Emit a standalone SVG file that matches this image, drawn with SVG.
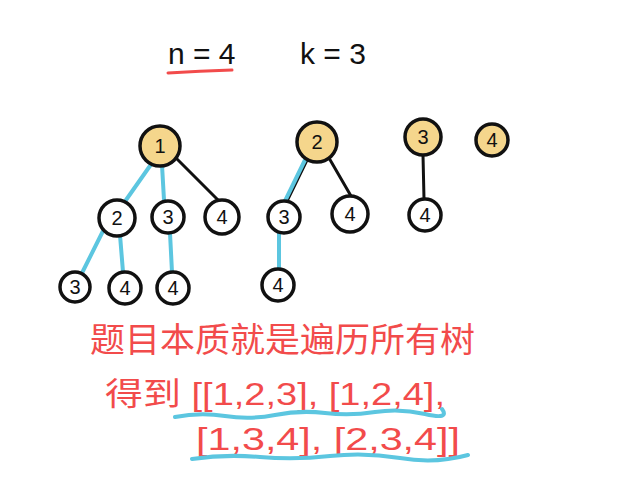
<svg xmlns="http://www.w3.org/2000/svg" width="622" height="491" viewBox="0 0 622 491">
<style>
.n circle{stroke:#111;stroke-width:3.5;fill:#fff}
.n.y circle{fill:#f5d68c}
.n text{font-family:"Liberation Sans",sans-serif;font-size:20px;fill:#111;text-anchor:middle;dominant-baseline:central}
.b{stroke:#5cc6e0;stroke-width:4;fill:none;stroke-linecap:round}
.k{stroke:#111;stroke-width:3;fill:none;stroke-linecap:round}
.t{font-family:"Liberation Sans","Noto Sans CJK SC",sans-serif;fill:#f24b4b}
.h{font-family:"Liberation Sans",sans-serif;fill:#111;font-size:30px}
</style>
<rect width="622" height="491" fill="#fff"/>
<text class="h" x="168" y="64">n = 4</text>
<text class="h" x="300" y="64">k = 3</text>
<path d="M168 73 Q200 71 232 70" stroke="#f24b4b" stroke-width="3" fill="none" stroke-linecap="round"/>
<g id="connectors">
<line class="b" x1="152" y1="163" x2="126" y2="200"/>
<line class="b" x1="162" y1="165" x2="164" y2="200"/>
<line class="k" x1="175" y1="157" x2="218" y2="200"/>
<line class="b" x1="104" y1="229" x2="82" y2="273"/>
<line class="b" x1="120" y1="235" x2="123" y2="272"/>
<line class="b" x1="170" y1="233" x2="172" y2="272"/>
<line class="k" x1="307" y1="160" x2="287" y2="201"/>
<line class="b" x1="305" y1="160" x2="285" y2="201"/>
<line class="k" x1="329" y1="158" x2="351" y2="196"/>
<line class="b" x1="279" y1="233" x2="279" y2="270"/>
<line class="k" x1="423" y1="155" x2="424" y2="199"/>
</g>
<g id="n1" class="n y"><circle cx="160" cy="146" r="20"/><text x="160" y="146">1</text></g>
<g id="n12" class="n"><circle cx="117" cy="218" r="18"/><text x="117" y="218">2</text></g>
<g id="n13" class="n"><circle cx="168" cy="217" r="16"/><text x="168" y="217">3</text></g>
<g id="n14" class="n"><circle cx="222" cy="217" r="17"/><text x="222" y="217">4</text></g>
<g id="n123" class="n"><circle cx="75" cy="287" r="15"/><text x="75" y="287">3</text></g>
<g id="n124" class="n"><circle cx="125" cy="288" r="16"/><text x="125" y="288">4</text></g>
<g id="n134" class="n"><circle cx="173" cy="288" r="16"/><text x="173" y="288">4</text></g>
<g id="n2" class="n y"><circle cx="317" cy="142" r="20"/><text x="317" y="142">2</text></g>
<g id="n23" class="n"><circle cx="284" cy="217" r="16"/><text x="284" y="217">3</text></g>
<g id="n24" class="n"><circle cx="350" cy="214" r="18"/><text x="350" y="214">4</text></g>
<g id="n234" class="n"><circle cx="278" cy="285" r="16"/><text x="278" y="285">4</text></g>
<g id="n3" class="n y"><circle cx="423" cy="137" r="18"/><text x="423" y="137">3</text></g>
<g id="n34" class="n"><circle cx="425" cy="215" r="16"/><text x="425" y="215">4</text></g>
<g id="n4" class="n y"><circle cx="492" cy="140" r="16"/><text x="492" y="140">4</text></g>
<text class="t" x="90" y="352" font-size="34" textLength="385" lengthAdjust="spacingAndGlyphs">题目本质就是遍历所有树</text>
<text class="t" x="105" y="405" font-size="32" textLength="340" lengthAdjust="spacingAndGlyphs">得到 [[1,2,3], [1,2,4],</text>
<text class="t" x="196" y="450" font-size="32" textLength="264" lengthAdjust="spacingAndGlyphs">[1,3,4], [2,3,4]]</text>
<path d="M175 417 Q200 412 225 416 T275 415 T325 413 T375 412 T425 414 T442 409" class="b" stroke-width="3"/>
<path d="M192 459 Q225 454 260 457 T330 456 T400 458 T468 455" class="b" stroke-width="3"/>
</svg>
